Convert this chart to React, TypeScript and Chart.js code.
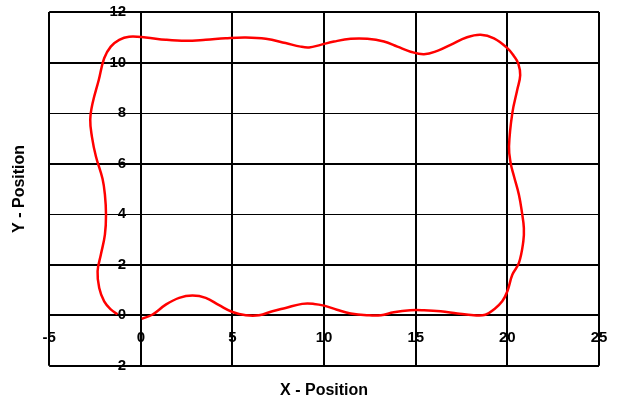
import React, { useEffect, useRef } from "react";
import { Chart, registerables } from "chart.js";

Chart.register(...registerables);

const xTicks = [-5, 0, 5, 10, 15, 20, 25];
const yTicks = [-2, 0, 2, 4, 6, 8, 10, 12];
const thinYLines = [4, 8];

const pathX = [
  0.05, 0.64, 1.36, 2.09, 2.82, 3.54, 4.27, 5.0, 5.73, 6.45, 7.18, 7.9, 8.8, 9.45, 10.0, 10.7, 11.45, 12.36, 13.1,
  13.8, 14.7, 15.45, 16.36, 17.27, 18.17, 18.8, 19.3, 19.72, 20.0, 20.27, 20.63, 20.87, 20.9, 20.8, 20.63, 20.36,
  20.18, 20.09, 20.27, 20.54, 20.7, 20.6, 20.36, 20.0, 19.27, 18.54, 17.8, 16.9, 16.18, 15.45, 14.72, 14.0, 13.27,
  12.36, 11.45, 10.54, 9.81, 9.18, 8.72, 7.9, 6.82, 5.73, 4.63, 3.54, 2.45, 1.36, 0.27, -0.64, -1.18, -1.64, -2.0,
  -2.3, -2.63, -2.76, -2.67, -2.45, -2.09, -1.96, -1.9, -1.96, -2.18, -2.36, -2.27, -2.0, -1.64, -1.27,
];
const pathY = [
  -0.14, 0.03, 0.42, 0.69, 0.78, 0.69, 0.4, 0.13, 0.0, 0.0, 0.16, 0.29, 0.45, 0.45, 0.38, 0.22, 0.07, 0.0, 0.0,
  0.12, 0.2, 0.2, 0.16, 0.07, 0.0, 0.02, 0.25, 0.55, 0.95, 1.6, 2.07, 2.92, 3.45, 4.05, 4.77, 5.5,
  6.02, 6.68, 8.0, 8.92, 9.5, 9.95, 10.25, 10.57, 10.96, 11.1, 11.0, 10.7, 10.46, 10.33, 10.43, 10.63, 10.83,
  10.94, 10.94, 10.83, 10.7, 10.6, 10.63, 10.77, 10.94, 10.99, 10.96, 10.9, 10.86, 10.9, 10.99, 11.02, 10.9, 10.63, 10.17,
  9.3, 8.4, 7.74, 7.07, 6.28, 5.4, 4.77, 3.98, 3.19, 2.4, 1.74, 1.08, 0.55, 0.23, 0.04,
];

const FONT = "'Liberation Sans', Arial, sans-serif";

export default function App() {
  const ref = useRef<HTMLCanvasElement | null>(null);
  useEffect(() => {
    if (!ref.current) return;
    const data = pathX.map((x, i) => ({ x, y: pathY[i] }));
    const chart = new Chart(ref.current, {
      type: "scatter",
      data: {
        datasets: [
          {
            data,
            showLine: true,
            borderColor: "#ff0000",
            backgroundColor: "#ff0000",
            borderWidth: 2.5,
            pointRadius: 0,
            tension: 0.4,
            fill: false,
          },
        ],
      },
      options: {
        animation: false,
        responsive: false,
        devicePixelRatio: 1,
        layout: { padding: { left: 0, right: 18, top: 12, bottom: 0 } },
        plugins: {
          legend: { display: false },
          tooltip: { enabled: false },
          title: {
            display: true,
            text: "X - Position",
            position: "bottom",
            fullSize: false,
            color: "#000",
            font: { family: FONT, size: 16, weight: "bold" },
            padding: { top: 15, bottom: 1 },
          },
          subtitle: {
            display: true,
            text: "Y - Position",
            position: "left",
            fullSize: false,
            color: "#000",
            font: { family: FONT, size: 16, weight: "bold" },
            padding: { top: 10, bottom: 20 },
          },
        },
        scales: {
          x: {
            type: "linear",
            position: { y: 0 } as any,
            min: -5,
            max: 25,
            afterBuildTicks: (s: any) => {
              s.ticks = xTicks.map((v) => ({ value: v }));
            },
            grid: { color: "#000", lineWidth: 2, drawTicks: false },
            border: { display: true, color: "#000", width: 2 },
            ticks: {
              color: "#000",
              padding: 8,
              maxRotation: 0,
              autoSkip: false,
              font: { family: FONT, size: 15, weight: "bold", lineHeight: 2 },
            },
          },
          y: {
            type: "linear",
            position: { x: -0.8 } as any,
            min: -2,
            max: 12,
            afterBuildTicks: (s: any) => {
              s.ticks = yTicks.map((v) => ({ value: v }));
            },
            grid: {
              color: "#000",
              drawTicks: false,
              lineWidth: (ctx: any) => (ctx.tick && thinYLines.includes(ctx.tick.value) ? 1 : 2),
            },
            border: { display: false },
            ticks: {
              color: "#000",
              padding: 0,
              autoSkip: false,
              font: { family: FONT, size: 15, weight: "bold" },
            },
          },
        },
      },
    });
    return () => chart.destroy();
  }, []);
  return (
    <div style={{ position: "absolute", left: 0, top: 0, width: 617, height: 401, background: "#fff" }}>
      <canvas ref={ref} width={617} height={401} style={{ display: "block", width: 617, height: 401 }} />
    </div>
  );
}
